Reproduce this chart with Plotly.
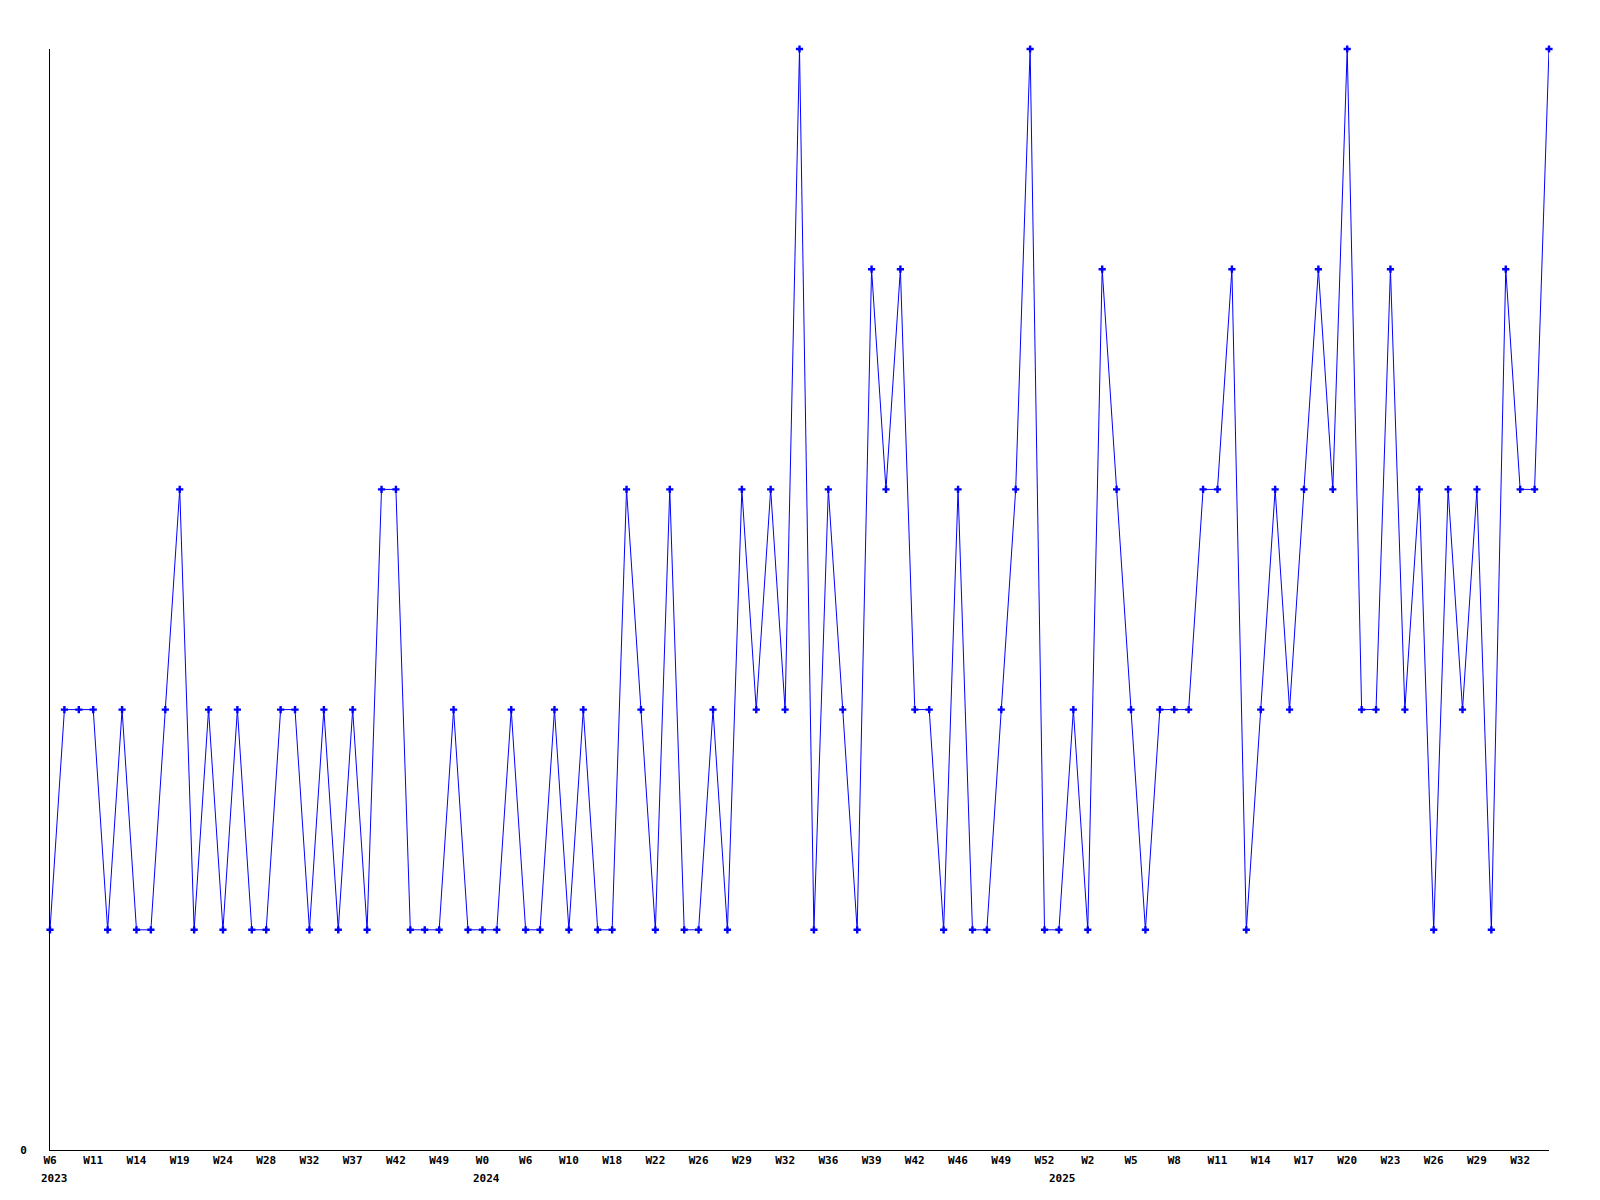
import plotly.graph_objects as go

values = [1, 2, 2, 2, 1, 2, 1, 1, 2, 3,
          1, 2, 1, 2, 1, 1, 2, 2, 1, 2,
          1, 2, 1, 3, 3, 1, 1, 1, 2, 1,
          1, 1, 2, 1, 1, 2, 1, 2, 1, 1,
          3, 2, 1, 3, 1, 1, 2, 1, 3, 2,
          3, 2, 5, 1, 3, 2, 1, 4, 3, 4,
          2, 2, 1, 3, 1, 1, 2, 3, 5, 1,
          1, 2, 1, 4, 3, 2, 1, 2, 2, 2,
          3, 3, 4, 1, 2, 3, 2, 3, 4, 3,
          5, 2, 2, 4, 2, 3, 1, 3, 2, 3,
          1, 4, 3, 3, 5]

tick_labels = ["W6", "W11", "W14", "W19", "W24", "W28", "W32", "W37", "W42", "W49",
               "W0", "W6", "W10", "W18", "W22", "W26", "W29", "W32", "W36", "W39",
               "W42", "W46", "W49", "W52",
               "W2", "W5", "W8", "W11", "W14", "W17", "W20", "W23", "W26", "W29", "W32"]

year_labels = ["2023", "2024", "2025"]
year_points = [0, 30, 70]

n = len(values)
xs = list(range(n))
tick_step = 3
tickvals = list(range(0, n, tick_step))[:len(tick_labels)]

font = dict(family="DejaVu Sans Mono", size=11, color="black", weight="bold")

fig = go.Figure(go.Scatter(
    x=xs, y=values, mode="lines+markers",
    line=dict(color="#0000ff", width=1),
    marker=dict(symbol="cross", size=6, color="#0000ff", line=dict(width=0)),
    cliponaxis=False, hoverinfo="skip",
))

for lbl, p in zip(year_labels, year_points):
    fig.add_annotation(x=p, y=0, xref="x", yref="paper", text=lbl, showarrow=False,
                       yshift=-28, xshift=4, xanchor="center", yanchor="middle", font=font)

fig.update_layout(
    width=1600, height=1200,
    margin=dict(l=50, r=51, t=49, b=50),
    paper_bgcolor="white", plot_bgcolor="white",
    showlegend=False,
    xaxis=dict(range=[0, n - 1], tickvals=tickvals, ticktext=tick_labels,
               showline=True, linecolor="black", linewidth=1, showgrid=False,
               zeroline=False, ticks="", tickfont=font, tickangle=0, fixedrange=True),
    yaxis=dict(range=[0, 5], tickvals=[0], ticktext=["0"], showline=True,
               linecolor="black", linewidth=1, showgrid=False, zeroline=False,
               ticks="", tickfont=font, ticklabelstandoff=20, fixedrange=True),
)

fig.write_html("out.html", post_script="document.body.style.margin='0';",
               config={"displayModeBar": False})
